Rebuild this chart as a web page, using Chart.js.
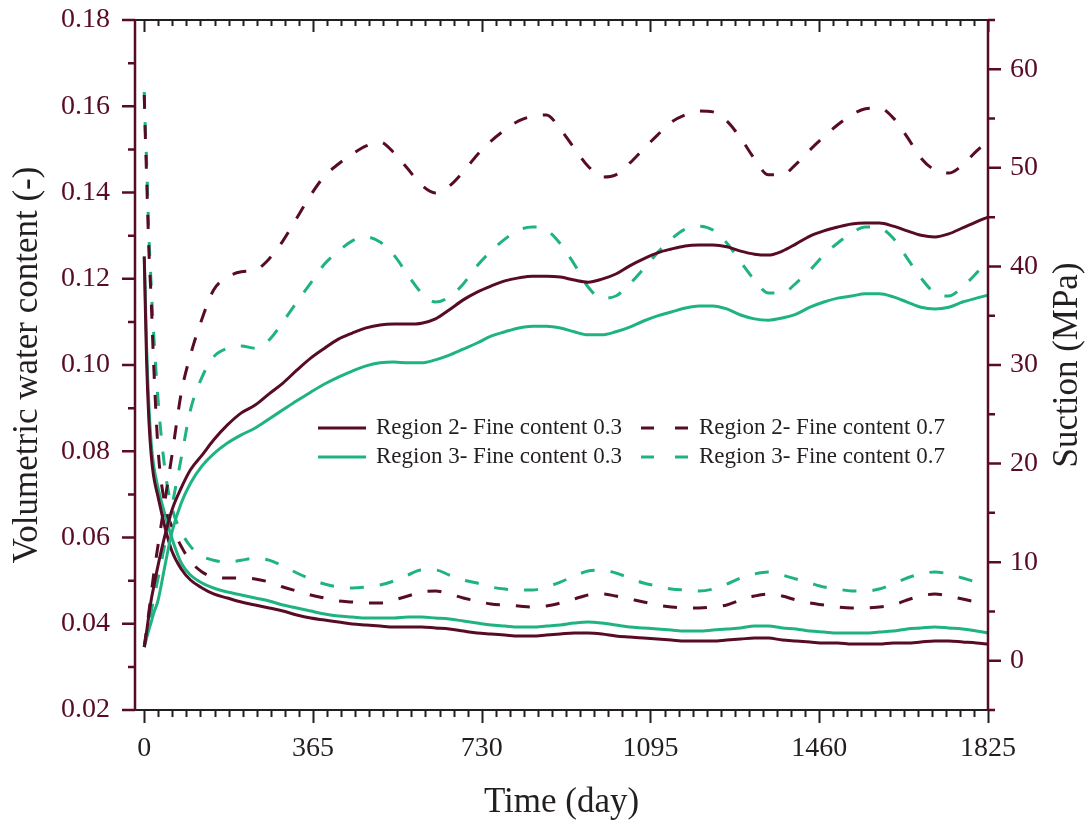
<!DOCTYPE html>
<html>
<head>
<meta charset="utf-8">
<script src="https://cdn.jsdelivr.net/npm/chart.js@4.4.1/dist/chart.umd.min.js"></script>
<style>
  html, body { margin: 0; padding: 0; background: #fff; }
</style>
</head>
<body>
<canvas id="grafico" width="1088" height="825"></canvas>
<script>
// time axis (day)
const days = [0, 2, 5, 10, 15, 20, 30, 45, 60, 80, 100, 125, 150,
  180, 210, 240, 270, 300, 330, 360, 390, 420, 450,
  480, 510, 540, 570, 600, 630, 660, 690, 720, 750,
  780, 810, 840, 870, 900, 930, 960, 990, 1020, 1050,
  1080, 1110, 1140, 1170, 1200, 1230, 1260, 1290, 1320, 1350,
  1380, 1410, 1440, 1470, 1500, 1530, 1560, 1590, 1620, 1650,
  1680, 1710, 1740, 1770, 1800, 1825];

const xTicks = [0, 365, 730, 1095, 1460, 1825];
const suctionTicks = [0, 10, 20, 30, 40, 50, 60];

// volumetric water content (-), left axis
const wcR2fine03 = [0.0346, 0.0360, 0.0381, 0.0420, 0.0455, 0.0483, 0.0536, 0.0606, 0.0664, 0.0715, 0.0757, 0.0791, 0.0826,
  0.0861, 0.0889, 0.0907, 0.0933, 0.0958, 0.0988, 0.1016, 0.1039, 0.1060, 0.1074,
  0.1086, 0.1093, 0.1095, 0.1095, 0.1097, 0.1107, 0.1128, 0.1151, 0.1169, 0.1183,
  0.1195, 0.1202, 0.1206, 0.1206, 0.1204, 0.1197, 0.1192, 0.1199, 0.1211, 0.1230,
  0.1246, 0.1260, 0.1269, 0.1276, 0.1278, 0.1278, 0.1274, 0.1264, 0.1257, 0.1255,
  0.1264, 0.1281, 0.1299, 0.1311, 0.1320, 0.1327, 0.1329, 0.1329, 0.1322, 0.1311,
  0.1301, 0.1297, 0.1304, 0.1318, 0.1332, 0.1343];

const wcR2fine07 = [0.0346, 0.0362, 0.0386, 0.0427, 0.0469, 0.0511, 0.0583, 0.0687, 0.0791, 0.0935, 0.1023, 0.1107, 0.1174,
  0.1204, 0.1216, 0.1220, 0.1246, 0.1288, 0.1341, 0.1394, 0.1438, 0.1466, 0.1489,
  0.1508, 0.1517, 0.1492, 0.1455, 0.1417, 0.1399, 0.1415, 0.1448, 0.1487, 0.1519,
  0.1545, 0.1566, 0.1577, 0.1580, 0.1547, 0.1503, 0.1461, 0.1436, 0.1441, 0.1468,
  0.1501, 0.1533, 0.1563, 0.1580, 0.1589, 0.1587, 0.1566, 0.1526, 0.1478, 0.1441,
  0.1441, 0.1466, 0.1499, 0.1529, 0.1557, 0.1580, 0.1594, 0.1596, 0.1573, 0.1529,
  0.1480, 0.1452, 0.1445, 0.1464, 0.1496, 0.1519];

const wcR3fine03 = [0.0346, 0.0355, 0.0367, 0.0386, 0.0404, 0.0423, 0.0455, 0.0536, 0.0613, 0.0680, 0.0726, 0.0766, 0.0794,
  0.0819, 0.0838, 0.0854, 0.0875, 0.0896, 0.0917, 0.0937, 0.0956, 0.0972, 0.0986,
  0.0998, 0.1005, 0.1007, 0.1005, 0.1005, 0.1012, 0.1023, 0.1037, 0.1051, 0.1067,
  0.1077, 0.1086, 0.1090, 0.1090, 0.1086, 0.1077, 0.1070, 0.1070, 0.1077, 0.1088,
  0.1102, 0.1114, 0.1123, 0.1132, 0.1137, 0.1137, 0.1130, 0.1116, 0.1107, 0.1104,
  0.1109, 0.1118, 0.1134, 0.1146, 0.1155, 0.1160, 0.1165, 0.1165, 0.1158, 0.1146,
  0.1134, 0.1130, 0.1134, 0.1146, 0.1155, 0.1162];

const wcR3fine07 = [0.0346, 0.0355, 0.0372, 0.0399, 0.0427, 0.0455, 0.0506, 0.0587, 0.0673, 0.0784, 0.0896, 0.0972, 0.1019,
  0.1039, 0.1044, 0.1039, 0.1058, 0.1100, 0.1146, 0.1190, 0.1234, 0.1264, 0.1288,
  0.1297, 0.1285, 0.1255, 0.1209, 0.1167, 0.1146, 0.1158, 0.1188, 0.1230, 0.1264,
  0.1292, 0.1313, 0.1320, 0.1313, 0.1281, 0.1234, 0.1181, 0.1155, 0.1160, 0.1188,
  0.1223, 0.1260, 0.1292, 0.1315, 0.1322, 0.1313, 0.1283, 0.1239, 0.1197, 0.1167,
  0.1167, 0.1190, 0.1220, 0.1255, 0.1283, 0.1306, 0.1320, 0.1318, 0.1294, 0.1248,
  0.1202, 0.1167, 0.1160, 0.1181, 0.1213, 0.1243];

// suction (MPa), right axis
const suR2fine03 = [41.0, 36.6, 30.5, 24.4, 20.9, 18.8, 16.6, 13.5, 11.1, 9.3, 8.19, 7.38, 6.77,
  6.36, 5.96, 5.65, 5.35, 5.04, 4.64, 4.33, 4.13, 3.93, 3.72,
  3.62, 3.52, 3.42, 3.42, 3.42, 3.32, 3.22, 3.01, 2.81, 2.71,
  2.61, 2.51, 2.51, 2.61, 2.71, 2.81, 2.81, 2.71, 2.51, 2.40,
  2.30, 2.20, 2.10, 2.00, 2.00, 2.00, 2.10, 2.20, 2.30, 2.30,
  2.10, 2.00, 1.90, 1.80, 1.80, 1.69, 1.69, 1.69, 1.80, 1.80,
  1.90, 2.00, 2.00, 1.90, 1.80, 1.69];

const suR2fine07 = [57.4, 53.8, 49.3, 41.7, 36.6, 30.5, 21.4, 15.8, 13.6, 11.6, 10.1, 9.00, 8.49,
  8.39, 8.39, 8.29, 7.98, 7.48, 7.07, 6.67, 6.36, 6.06, 5.96,
  5.85, 5.85, 6.16, 6.56, 6.97, 7.07, 6.77, 6.36, 6.06, 5.75,
  5.65, 5.55, 5.45, 5.55, 5.85, 6.26, 6.67, 6.77, 6.56, 6.26,
  5.96, 5.65, 5.45, 5.35, 5.35, 5.45, 5.65, 6.16, 6.56, 6.77,
  6.56, 6.16, 5.85, 5.65, 5.45, 5.35, 5.35, 5.45, 5.65, 6.16,
  6.56, 6.77, 6.56, 6.26, 5.96, 5.75];

const suR3fine03 = [41.0, 37.6, 32.0, 25.9, 22.1, 19.9, 17.5, 14.8, 12.4, 9.91, 8.69, 7.88, 7.38,
  6.97, 6.67, 6.36, 6.06, 5.65, 5.35, 5.04, 4.74, 4.53, 4.43,
  4.33, 4.33, 4.33, 4.43, 4.43, 4.33, 4.23, 4.03, 3.82, 3.62,
  3.52, 3.42, 3.42, 3.52, 3.62, 3.82, 3.93, 3.82, 3.62, 3.42,
  3.32, 3.22, 3.11, 3.01, 3.01, 3.11, 3.22, 3.32, 3.52, 3.52,
  3.32, 3.22, 3.01, 2.91, 2.81, 2.81, 2.81, 2.91, 3.01, 3.22,
  3.32, 3.42, 3.32, 3.22, 3.01, 2.81];

const suR3fine07 = [57.7, 54.3, 50.8, 43.2, 38.1, 33.5, 26.4, 19.3, 15.5, 13.1, 11.6, 10.6, 10.2,
  10.0, 10.2, 10.4, 10.2, 9.61, 8.90, 8.29, 7.78, 7.48, 7.38,
  7.48, 7.68, 8.09, 8.69, 9.20, 9.20, 8.69, 8.19, 7.88, 7.48,
  7.27, 7.17, 7.17, 7.48, 7.98, 8.59, 9.10, 9.20, 8.90, 8.39,
  7.88, 7.58, 7.27, 7.17, 7.07, 7.27, 7.78, 8.39, 8.80, 9.00,
  8.69, 8.29, 7.88, 7.48, 7.27, 7.07, 7.07, 7.27, 7.78, 8.39,
  8.80, 9.00, 8.80, 8.39, 7.98, 7.68];

const labels = ['Region 2- Fine content 0.3', 'Region 2- Fine content 0.7',
  'Region 3- Fine content 0.3', 'Region 3- Fine content 0.7'];

const maroon = '#580b27';
const green = '#1fb383';
const dark = '#231f20';
const serif = '"Liberation Serif", "Times New Roman", serif';
const dash = [14, 16];

function serie(valores) {
  return days.map((d, i) => ({ x: d, y: valores[i] }));
}

function linha(label, valores, cor, tracejado, eixo) {
  return {
    label: label,
    data: serie(valores),
    borderColor: cor,
    borderWidth: 3,
    borderDash: tracejado ? dash : [],
    pointRadius: 0,
    fill: false,
    cubicInterpolationMode: 'monotone',
    yAxisID: eixo
  };
}

// frame and tick marks (inward on top, outward elsewhere) + right title read bottom-up
const moldura = {
  id: 'moldura',
  afterDraw(chart) {
    const { ctx, chartArea: a, scales } = chart;
    const x = scales.x, y = scales.y, y1 = scales.y1;
    ctx.save();
    ctx.lineCap = 'butt';

    ctx.strokeStyle = dark;
    ctx.lineWidth = 2;
    ctx.beginPath();
    for (let i = 0; i <= 60; i++) {
      const px = Math.round(x.getPixelForValue(i * 365 / 12)) + 0.5;
      const len = i % 12 === 0 ? 13 : 7;
      ctx.moveTo(px, a.bottom);
      ctx.lineTo(px, a.bottom + len);
      ctx.moveTo(px, a.top);
      ctx.lineTo(px, a.top + (i % 12 === 0 ? 12 : 6));
    }
    ctx.moveTo(a.left, a.top);
    ctx.lineTo(a.right, a.top);
    ctx.moveTo(a.left, a.bottom);
    ctx.lineTo(a.right, a.bottom);
    ctx.stroke();

    ctx.strokeStyle = maroon;
    ctx.lineWidth = 2.5;
    ctx.beginPath();
    for (let k = 2; k <= 18; k++) {
      const py = y.getPixelForValue(k / 100);
      ctx.moveTo(a.left, py);
      ctx.lineTo(a.left - (k % 2 === 0 ? 13 : 7), py);
    }
    for (let v = -5; v <= 65; v += 5) {
      const py = y1.getPixelForValue(v);
      ctx.moveTo(a.right, py);
      ctx.lineTo(a.right + (v % 10 === 0 ? 13 : 7), py);
    }
    ctx.moveTo(a.left, a.top - 1);
    ctx.lineTo(a.left, a.bottom + 1);
    ctx.moveTo(a.right, a.top - 1);
    ctx.lineTo(a.right, a.bottom + 1);
    ctx.stroke();

    ctx.translate(1068, (a.top + a.bottom) / 2);
    ctx.rotate(-Math.PI / 2);
    ctx.font = '35px ' + serif;
    ctx.fillStyle = dark;
    ctx.textAlign = 'center';
    ctx.textBaseline = 'middle';
    ctx.fillText('Suction (MPa)', 0, 0);
    ctx.restore();
  }
};

const legendaPos = [{ x: 318, y: 428 }, { x: 641, y: 428 }, { x: 318, y: 457 }, { x: 641, y: 457 }];

const legenda = {
  id: 'legenda',
  afterDraw(chart) {
    const ctx = chart.ctx;
    ctx.save();
    ctx.font = '23px ' + serif;
    ctx.textBaseline = 'middle';
    chart.data.datasets.slice(0, 4).forEach((ds, i) => {
      const p = legendaPos[i];
      ctx.strokeStyle = ds.borderColor;
      ctx.lineWidth = 3;
      ctx.setLineDash(ds.borderDash.length ? [13, 21] : []);
      ctx.beginPath();
      ctx.moveTo(p.x, p.y);
      ctx.lineTo(p.x + 48, p.y);
      ctx.stroke();
      ctx.setLineDash([]);
      ctx.fillStyle = dark;
      ctx.fillText(ds.label, p.x + 58, p.y);
    });
    ctx.restore();
  }
};

function semPadding(s, largura) {
  s.width = largura;
  s.paddingTop = 0;
  s.paddingBottom = 0;
}

const ctx = document.getElementById('grafico').getContext('2d');
new Chart(ctx, {
  type: 'line',
  data: {
    datasets: [
      linha(labels[0], wcR2fine03, maroon, false, 'y'),
      linha(labels[1], wcR2fine07, maroon, true, 'y'),
      linha(labels[2], wcR3fine03, green, false, 'y'),
      linha(labels[3], wcR3fine07, green, true, 'y'),
      linha(labels[0], suR2fine03, maroon, false, 'y1'),
      linha(labels[1], suR2fine07, maroon, true, 'y1'),
      linha(labels[2], suR3fine03, green, false, 'y1'),
      linha(labels[3], suR3fine07, green, true, 'y1')
    ]
  },
  options: {
    responsive: false,
    animation: false,
    devicePixelRatio: 1,
    layout: { padding: { top: 20, left: 0, right: 0, bottom: 0 } },
    plugins: { legend: { display: false }, tooltip: { enabled: false } },
    scales: {
      x: {
        type: 'linear',
        min: -20,
        max: 1825,
        afterBuildTicks: s => { s.ticks = xTicks.map(v => ({ value: v })); },
        afterFit: s => { s.height = 115; s.paddingLeft = 0; s.paddingRight = 0; },
        grid: { display: false, drawTicks: false },
        border: { display: false },
        ticks: { padding: 22, color: dark, font: { family: serif, size: 28 }, maxRotation: 0,
          callback: v => String(v) },
        title: { display: true, text: 'Time (day)', color: dark, font: { family: serif, size: 35 }, padding: { top: 0, bottom: 1 } }
      },
      y: {
        position: 'left',
        min: 0.02,
        max: 0.18,
        afterFit: s => semPadding(s, 135),
        grid: { display: false, drawTicks: false },
        border: { display: false },
        ticks: { stepSize: 0.02, padding: 25, color: maroon, font: { family: serif, size: 28 },
          callback: v => v.toFixed(2) },
        title: { display: true, text: 'Volumetric water content (-)', color: dark, font: { family: serif, size: 35 }, padding: { top: 7, bottom: 0 } }
      },
      y1: {
        position: 'right',
        min: -5,
        max: 65,
        afterBuildTicks: s => { s.ticks = suctionTicks.map(v => ({ value: v })); },
        afterFit: s => semPadding(s, 100),
        grid: { display: false, drawTicks: false },
        border: { display: false },
        ticks: { padding: 22, color: maroon, font: { family: serif, size: 28 } },
        title: { display: false }
      }
    }
  },
  plugins: [moldura, legenda]
});
</script>
</body>
</html>
